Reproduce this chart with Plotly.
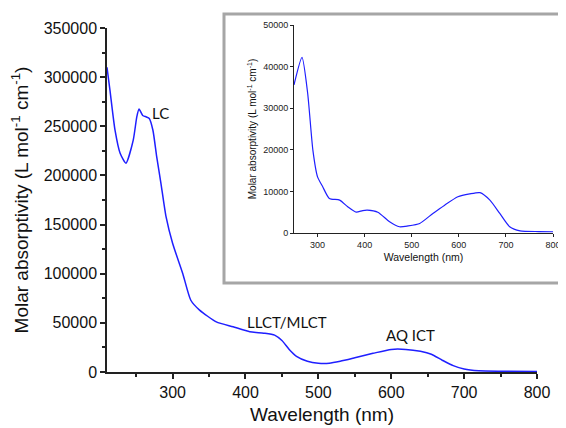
import plotly.graph_objects as go

# Main spectrum
main_wl = [210, 214, 221, 228, 236, 246, 251, 254, 259, 264, 268, 273, 278, 284, 291,
           300, 314, 325, 337, 360, 383, 406, 425, 440, 450, 460, 470, 485, 500, 515,
           530, 550, 575, 600, 620, 640, 655, 670, 685, 700, 720, 750, 800]
main_eps = [310000, 287000, 246000, 222500, 212500, 236000, 260000, 267500, 261000, 259500,
            258000, 246000, 220000, 192000, 158000, 131000, 100000, 73000, 63000, 51000,
            46000, 41000, 39500, 37500, 32000, 23000, 16000, 11000, 9000, 9000,
            11000, 14500, 19000, 23000, 23000, 21000, 18000, 12000, 6500, 3000,
            1200, 700, 500]

# Inset spectrum
inset_wl = [250, 267, 279, 290, 300, 311, 325, 347, 364, 382, 396, 406, 428, 453, 474,
            492, 517, 545, 570, 598, 623, 645, 666, 687, 708, 730, 770, 800]
inset_eps = [35600, 42200, 33600, 20000, 13500, 11100, 8300, 7900, 6300, 5000, 5400, 5500,
             5000, 2700, 1500, 1700, 2300, 4700, 6700, 8700, 9400, 9700, 7900, 4700,
             1500, 500, 350, 300]

main_xticks = [300, 400, 500, 600, 700, 800]
main_yticks = [0, 50000, 100000, 150000, 200000, 250000, 300000, 350000]
inset_xticks = [300, 400, 500, 600, 700, 800]
inset_yticks = [0, 10000, 20000, 30000, 40000, 50000]

labels = ["LC", "LLCT/MLCT", "AQ ICT"]
label_x = [283, 457, 626]
label_y = [263500, 51000, 37600]

# page body adds an 8px margin; work in page pixels and shift
OFF = 8
W, H = 566 - OFF, 428 - OFF
L, R, T, B = 107 - OFF, 0, 0, 56
pw, ph = W - L - R, H - T - B

def px_x(p):
    return (p - OFF - L) / pw

def px_y(p):
    return (H - B - (p - OFF)) / ph

line_color = "#1f1fff"
font_main = "Liberation Sans, Arial, sans-serif"

fig = go.Figure()
fig.add_trace(go.Scatter(x=main_wl, y=main_eps, mode="lines",
                         line=dict(color=line_color, width=1.5, shape="spline", smoothing=0.6),
                         xaxis="x", yaxis="y", showlegend=False, hoverinfo="skip"))
fig.add_trace(go.Scatter(x=inset_wl, y=inset_eps, mode="lines",
                         line=dict(color=line_color, width=1.2, shape="spline", smoothing=0.6),
                         xaxis="x2", yaxis="y2", showlegend=False, hoverinfo="skip"))

for t, x, y in zip(labels, label_x, label_y):
    fig.add_annotation(x=x, y=y, xref="x", yref="y", text=t, showarrow=False,
                       font=dict(family="Lato, Open Sans, sans-serif", size=15, color="#111"))

# Inset frame
fig.add_shape(type="rect", xref="paper", yref="paper",
              x0=px_x(224), x1=px_x(575), y0=px_y(283), y1=px_y(14),
              line=dict(color="#a6a6a6", width=3), fillcolor="white", layer="below")

axis_common = dict(showgrid=False, zeroline=False, showline=True, linecolor="#222",
                   ticks="outside", tickcolor="#222", automargin=False)

fig.update_layout(
    width=W, height=H,
    margin=dict(l=L, r=R, t=T, b=B),
    paper_bgcolor="white", plot_bgcolor="rgba(0,0,0,0)",
    font=dict(family=font_main, color="#111"),
    xaxis=dict(**axis_common, domain=[0, px_x(537)], range=[210, 800],
               tickvals=main_xticks, ticklen=5, linewidth=1.5, tickwidth=1.5,
               minor=dict(ticks="outside", dtick=50, tick0=0, ticklen=3, tickcolor="#222"),
               tickfont=dict(size=16, family=font_main, color="#111"),
               title=dict(text="Wavelength (nm)", font=dict(size=19, family=font_main), standoff=8)),
    yaxis=dict(**axis_common, domain=[0, px_y(28)], range=[0, 350000],
               tickvals=main_yticks, tickformat="d", ticklen=5, linewidth=1.5, tickwidth=1.5,
               minor=dict(ticks="outside", dtick=25000, tick0=0, ticklen=3, tickcolor="#222"),
               tickfont=dict(size=16, family=font_main, color="#111"),
               title=dict(text="Molar absorptivity (L mol<sup>-1</sup> cm<sup>-1</sup>)",
                          font=dict(size=19, family=font_main), standoff=12)),
    xaxis2=dict(**axis_common, anchor="y2", domain=[px_x(294), px_x(553)], range=[250, 800],
                tickvals=inset_xticks, ticklen=3, linewidth=1, tickwidth=1,
                tickfont=dict(size=9, family=font_main, color="#222"),
                title=dict(text="Wavelength (nm)", font=dict(size=10.5, family=font_main), standoff=4)),
    yaxis2=dict(**axis_common, anchor="x2", domain=[px_y(233), px_y(25)], range=[0, 50000],
                tickvals=inset_yticks, tickformat="d", ticklen=3, linewidth=1, tickwidth=1,
                tickfont=dict(size=9, family=font_main, color="#222"),
                title=dict(text="Molar absorptivity (L mol<sup>-1</sup> cm<sup>-1</sup>)",
                           font=dict(size=10, family=font_main), standoff=4)),
)

fig.write_html("out.html")
